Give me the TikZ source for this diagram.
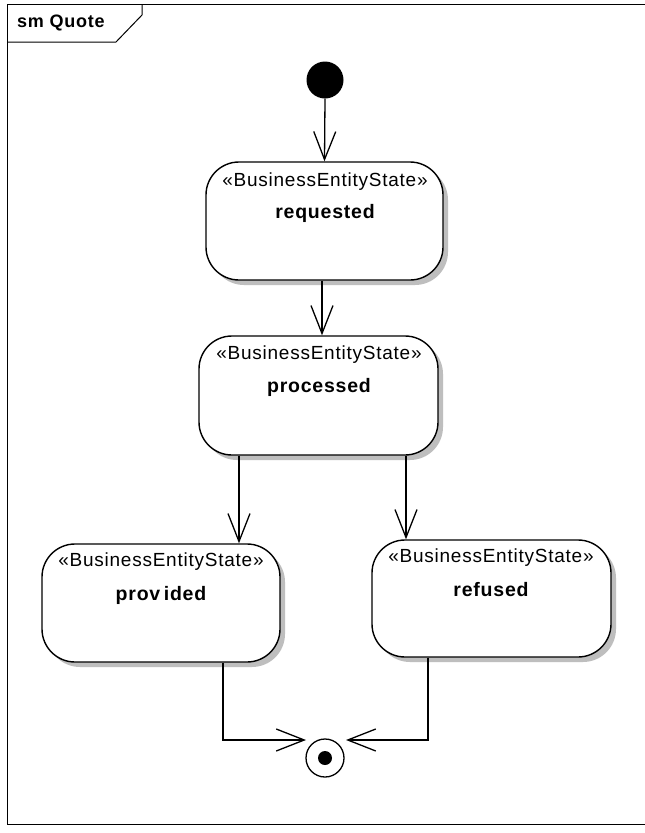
\documentclass[tikz,border=0pt]{standalone}
\usepackage{fontspec}
\setmainfont{Liberation Sans}
\newfontfamily\umlfont[LetterSpace=4]{Liberation Sans}
\usetikzlibrary{arrows.meta,shadows}
\definecolor{shadowgray}{RGB}{190,190,190}
\begin{document}
\begin{tikzpicture}[x=1pt,y=-1pt,
  frameline/.style={line width=1pt},
  statebox/.style={draw, line width=1.4pt, fill=white, rectangle, rounded corners=33pt,
    inner sep=0pt, drop shadow={shadow xshift=5pt, shadow yshift=-5pt, fill=shadowgray, opacity=1}},
  stereo/.style={font=\umlfont\fontsize{19}{21}\selectfont, inner sep=0pt},
  sname/.style={font=\umlfont\bfseries\fontsize{19.5}{21}\selectfont, inner sep=0pt},
  flow/.style={line width=1.3pt, -{Straight Barb[length=28pt,width=22pt,line width=1.3pt]}}
]
\useasboundingbox (0,0) rectangle (645,833);
\fill[white] (0,0) rectangle (645,833);

% diagram frame with its name tab
\draw[frameline] (7,4) -- (7,824) -- (650,824);
\draw[frameline] (7,4) -- (650,4);
\draw[frameline] (142,4) -- (142,15) -- (116,42) -- (7,42);
\node[font=\umlfont\bfseries\fontsize{18}{20}\selectfont, anchor=west, inner sep=0pt] (title) at (17,23) {sm Quote};

% pseudostates
\node[circle, fill=black, minimum size=37pt, inner sep=0pt] (init) at (325,80) {};
\node[circle, draw, line width=1.3pt, fill=white, minimum size=38pt, inner sep=0pt] (final) at (325,758) {};
\node[circle, fill=black, minimum size=14pt, inner sep=0pt] (finaldot) at (final.center) {};

% states
\node[statebox, minimum width=237pt, minimum height=118pt] (requested) at (324.5,221) {};
\node[statebox, minimum width=239pt, minimum height=119pt] (processed) at (318.5,395.5) {};
\node[statebox, minimum width=238pt, minimum height=118pt] (provided) at (161,603) {};
\node[statebox, minimum width=239pt, minimum height=117pt] (refused) at (491.5,598.5) {};

\node[stereo] (requestedst) at (325,182) {«BusinessEntityState»};
\node[sname] (requestedname) at (325,213) {requested};
\node[stereo] (processedst) at (319,355) {«BusinessEntityState»};
\node[sname] (processedname) at (319,387) {processed};
\node[stereo] (providedst) at (161,562) {«BusinessEntityState»};
\node[sname] (providedname) at (161,595) {prov\hspace{3.5pt}ided};
\node[stereo] (refusedst) at (491,558) {«BusinessEntityState»};
\node[sname] (refusedname) at (491,590) {refused};

% transitions
\coordinate (pl) at (223,740);
\coordinate (rl) at (428,740);
\coordinate (pt) at (306,740);
\coordinate (rt) at (346,740);
\draw[flow] (init.south) -- (requested.north);
\draw[flow] (requested.south -| 322,0) -- (processed.north -| 322,0);
\draw[flow] (processed.south -| 239,0) -- (provided.north -| 239,0);
\draw[flow] (processed.south -| 406,0) -- (refused.north -| 406,0);
\draw[flow] (provided.south -| pl) -- (pl) -- (pt);
\draw[flow] (refused.south -| rl) -- (rl) -- (rt);
\end{tikzpicture}
\end{document}
